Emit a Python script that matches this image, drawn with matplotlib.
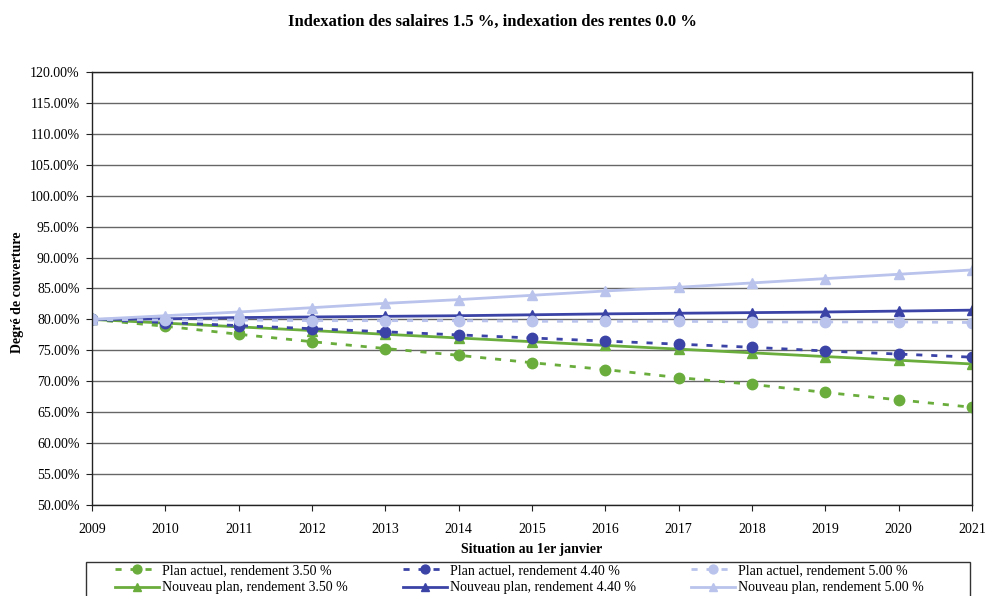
import matplotlib
matplotlib.use("Agg")
import matplotlib.pyplot as plt
from matplotlib.patches import Rectangle
from matplotlib.ticker import FuncFormatter, MultipleLocator

years = list(range(2009, 2022))

plan_actuel_350 = [80.0, 78.9, 77.6, 76.4, 75.3, 74.2, 73.0, 71.9, 70.6, 69.5, 68.2, 67.0, 65.8]
nouveau_plan_350 = [80.0, 79.4, 78.8, 78.2, 77.6, 77.0, 76.4, 75.8, 75.2, 74.6, 74.0, 73.4, 72.8]
plan_actuel_440 = [80.0, 79.5, 79.0, 78.5, 78.0, 77.5, 77.0, 76.5, 76.0, 75.5, 74.9, 74.4, 73.9]
nouveau_plan_440 = [80.0, 80.1, 80.3, 80.4, 80.5, 80.6, 80.75, 80.9, 81.0, 81.1, 81.2, 81.35, 81.5]
plan_actuel_500 = [80.0, 79.9, 79.9, 79.8, 79.8, 79.8, 79.7, 79.7, 79.7, 79.6, 79.6, 79.6, 79.5]
nouveau_plan_500 = [80.0, 80.6, 81.2, 81.9, 82.6, 83.2, 83.9, 84.6, 85.2, 85.9, 86.6, 87.3, 88.0]

labels = {
    "pa350": "Plan actuel, rendement 3.50 %",
    "np350": "Nouveau plan, rendement 3.50 %",
    "pa440": "Plan actuel, rendement 4.40 %",
    "np440": "Nouveau plan, rendement 4.40 %",
    "pa500": "Plan actuel, rendement 5.00 %",
    "np500": "Nouveau plan, rendement 5.00 %",
}

title = "Indexation des salaires 1.5 %, indexation des rentes 0.0 %"
xlabel = "Situation au 1er janvier"
ylabel = "Degré de couverture"

green = "#6aad3d"
dblue = "#3b44a6"
lblue = "#b9c3ec"

plt.rcParams["font.family"] = ["Liberation Serif", "DejaVu Serif"]

W, H = 985, 596
fig = plt.figure(figsize=(W/100, H/100), dpi=100)
ax = fig.add_axes([92/W, 1-505/H, (972-92)/W, (505-72)/H])

dash = (0, (2.2, 3.2))
lw = 2.0
ms = 7.5
h_pa350, = ax.plot(years, plan_actuel_350, color=green, ls=dash, lw=lw, marker="o", ms=ms, label=labels["pa350"])
h_np350, = ax.plot(years, nouveau_plan_350, color=green, ls="-", lw=lw, marker="^", ms=ms, label=labels["np350"])
h_pa440, = ax.plot(years, plan_actuel_440, color=dblue, ls=dash, lw=lw, marker="o", ms=ms, label=labels["pa440"])
h_np440, = ax.plot(years, nouveau_plan_440, color=dblue, ls="-", lw=lw, marker="^", ms=ms, label=labels["np440"])
h_pa500, = ax.plot(years, plan_actuel_500, color=lblue, ls=dash, lw=lw, marker="o", ms=ms, label=labels["pa500"])
h_np500, = ax.plot(years, nouveau_plan_500, color=lblue, ls="-", lw=lw, marker="^", ms=ms, label=labels["np500"])

ax.set_xlim(2009, 2021)
ax.set_ylim(50, 120)
ax.set_xticks(years)
ax.yaxis.set_major_locator(MultipleLocator(5))
ax.yaxis.set_major_formatter(FuncFormatter(lambda v, p: f"{v:.2f}%"))
ax.grid(axis="y", color="#666666", lw=1.0)
ax.set_axisbelow(True)
for s in ax.spines.values():
    s.set_color("#222222")
    s.set_linewidth(1.0)
ax.tick_params(axis="both", labelsize=10, length=4, color="#222222")
ax.tick_params(axis="x", pad=9)
ax.tick_params(axis="y", pad=5)

fig.text(0.5, 1-22/H, title, ha="center", va="center", fontsize=12, fontweight="bold")
fig.text(532/W, 1-550/H, xlabel, ha="center", va="center", fontsize=10, fontweight="bold")
fig.text(18/W, 1-292/H, ylabel, ha="center", va="center", rotation=90, fontsize=10, fontweight="bold")

# legend frame (extends beyond the bottom edge, as in the reference)
fig.patches.append(Rectangle((86/W, -0.02), (970-86)/W, (1-562/H)+0.02, transform=fig.transFigure,
                             fill=False, edgecolor="#333333", lw=1.0))

handles = [h_pa350, h_np350, h_pa440, h_np440, h_pa500, h_np500]
leg = fig.legend(handles=handles, labels=[h.get_label() for h in handles], ncol=3,
                 loc="upper left", bbox_to_anchor=(115/W, 1-564/H),
                 fontsize=10, frameon=False, borderaxespad=0, borderpad=0,
                 handlelength=3.2, handletextpad=0.2, columnspacing=3.95,
                 labelspacing=0.32, markerscale=0.85)

fig.savefig("out.png", dpi=100)
